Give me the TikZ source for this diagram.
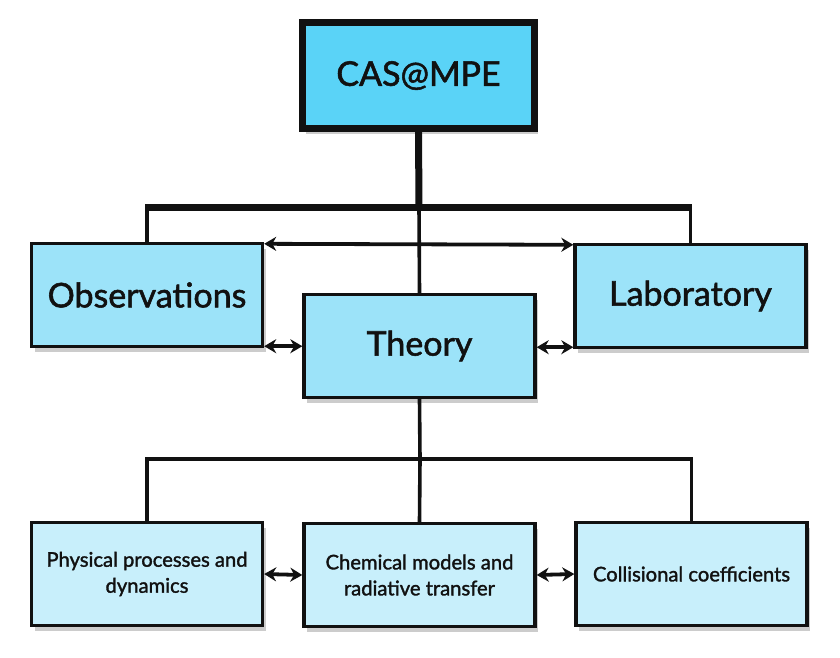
\documentclass[tikz,border=0pt]{standalone}
\usepackage{fontspec}
\setmainfont{Lato}[FakeBold=1.6]
\usepackage{tikz}
\usetikzlibrary{arrows.meta, positioning, shadows, calc}

\definecolor{topcyan}{HTML}{5AD3F7}
\definecolor{midcyan}{HTML}{9CE3F9}
\definecolor{lowcyan}{HTML}{C8EFFB}
\definecolor{inkblack}{HTML}{111111}

\begin{document}
\begin{tikzpicture}[
  x=1pt, y=-1pt,
  % Base style for boxes
  basebox/.style={draw=inkblack, line width=3.4pt, inner sep=2pt, align=center,
    text=inkblack, drop shadow={opacity=0.4, shadow xshift=3pt, shadow yshift=-5pt}},
  % Styles inheriting from basebox
  headbox/.style={basebox, fill=topcyan, line width=7pt, minimum width=232pt,
    minimum height=106pt, font=\fontsize{34}{40}\selectfont},
  groupbox/.style={basebox, fill=midcyan, minimum width=231pt, minimum height=103pt,
    font=\fontsize{34}{40}\selectfont},
  topicbox/.style={basebox, fill=lowcyan, minimum width=231pt, minimum height=103pt,
    font=\fontsize{20.2}{26}\selectfont},
  bus/.style={draw=inkblack, line width=3.6pt},
  mainbus/.style={draw=inkblack, line width=7pt},
  link/.style={draw=inkblack, line width=3.8pt,
    {Stealth[length=12pt, width=14pt]}-{Stealth[length=12pt, width=14pt]}}
]
  \useasboundingbox (0,0) rectangle (840,657);

  % Top box
  \node[headbox] (cas) at (418.5,75.5) {CAS@MPE};

  % Middle row
  \node[groupbox] (obs) at (147,295) {Observations};
  \node[groupbox] (theory) at (419.5,346) {Theory};
  \node[groupbox] (lab) at (690.5,296) {Laboratory};

  % Bottom row
  \node[topicbox] (phys) at (147,574) {Physical processes and\\dynamics};
  \node[topicbox] (chem) at (419.5,575) {Chemical models and\\radiative transfer};
  \node[topicbox] (coll) at (691.5,574) {Collisional coefficients};

  % Bus points
  \coordinate (topbus) at (419,207);
  \coordinate (lowbus) at (420,459);

  % Tree from the top box
  \draw[mainbus] (cas.south) -- (topbus);
  \draw[bus] (obs.north) -- (obs.north |- topbus);
  \draw[bus] (lab.north) -- (lab.north |- topbus);
  \draw[bus] (topbus) -- (theory.north);
  \draw[mainbus] ([xshift=-1.8pt]obs.north |- topbus) -- ([xshift=1.8pt]lab.north |- topbus);

  % Tree from theory
  \draw[bus] (theory.south) -- (lowbus);
  \draw[bus] (phys.north) |- (lowbus) -| (coll.north);
  \draw[bus] (lowbus) -- (chem.north);

  % Arrows between the boxes
  \draw[link] ([yshift=-2pt]obs.north east) -- ([yshift=-2pt]lab.north west);
  \draw[link] ([yshift=2pt]obs.south east) -- ([yshift=2pt]obs.south east -| theory.west);
  \draw[link] ([yshift=2pt]lab.south west -| theory.east) -- ([yshift=2pt]lab.south west);
  \draw[link] (phys.east) -- (chem.west);
  \draw[link] (chem.east) -- (coll.west);

\end{tikzpicture}
\end{document}
